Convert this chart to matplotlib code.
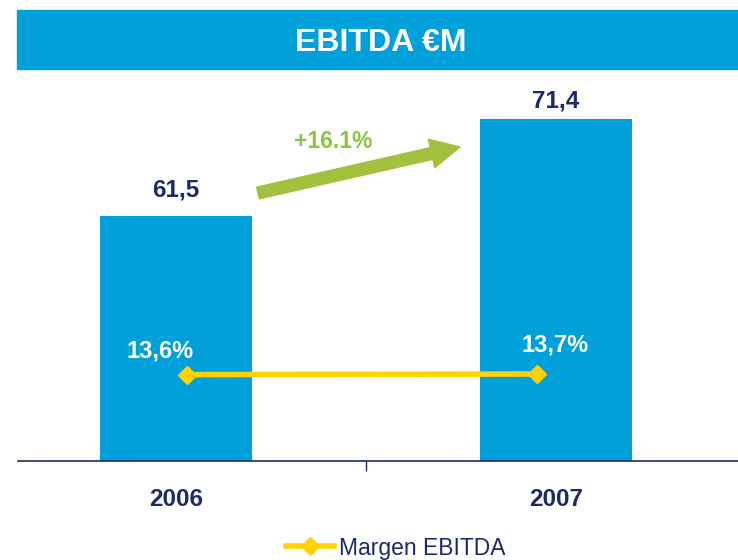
import matplotlib.pyplot as plt
from matplotlib.patches import Rectangle

plt.rcParams['font.family'] = ['Liberation Sans', 'DejaVu Sans']

years = ['2006', '2007']
ebitda = [61.5, 71.4]
ebitda_labels = ['61,5', '71,4']
margin = [13.6, 13.7]
margin_labels = ['13,6%', '13,7%']
growth_label = '+16.1%'

blue = '#00A0DA'
navy = '#1B2A6B'
yellow = '#FFD200'
green = '#A3C13F'
green_txt = '#8CC63E'

W, H = 738, 560
fig = plt.figure(figsize=(W / 100, H / 100), dpi=100)

# title banner
fig.patches.append(Rectangle((17 / W, 1 - 69 / H), 1, 59 / H,
                             transform=fig.transFigure, color=blue, zorder=0))
fig.text(381 / W, 1 - 43 / H, 'EBITDA €M', color='white', fontsize=23,
         fontweight='bold', ha='center', va='center')

pos = [18 / W, (H - 461) / H, 720 / W, 381 / H]
ax = fig.add_axes(pos)
x = [0, 1]
ax.bar(x, ebitda, width=0.40, color=blue, zorder=2)
ax.set_xlim(-0.416, 1.479)
ax.set_ylim(36.5, 75.4)
for s in ['top', 'left', 'right']:
    ax.spines[s].set_visible(False)
ax.spines['bottom'].set_color(navy)
ax.spines['bottom'].set_linewidth(1.2)
ax.set_yticks([])
ax.set_xticks([0.5])
ax.set_xticklabels([''])
ax.tick_params(axis='x', direction='out', length=7, color=navy, width=1)
label_off = [26, 18]
for xi, v, lab, off in zip(x, ebitda, ebitda_labels, label_off):
    ax.annotate(lab, (xi, v), xytext=(0, off), textcoords='offset pixels',
                ha='center', va='center', color=navy,
                fontsize=17.5, fontweight='bold')
for xi, yr in zip(x, years):
    ax.annotate(yr, (xi, 0), xycoords=('data', 'axes fraction'),
                xytext=(0, -39), textcoords='offset pixels', ha='center',
                va='center', color=navy, fontsize=17.5, fontweight='bold')

# margin line on its own axes
ax2 = fig.add_axes(pos, facecolor='none')
ax2.set_xlim(-0.483, 1.574)
ax2.set_ylim(0, 60)
ax2.axis('off')
line, = ax2.plot(x, margin, color=yellow, lw=4, marker='D', ms=9,
                 zorder=3, label='Margen EBITDA')
offsets = [(-27, 24), (18, 29)]
for xi, v, lab, off in zip(x, margin, margin_labels, offsets):
    ax2.annotate(lab, (xi, v), xytext=off, textcoords='offset pixels',
                 ha='center', va='center', color='white', fontsize=17,
                 fontweight='bold')

# growth arrow
fig.text(333 / W, 1 - 141 / H, growth_label, color=green_txt, fontsize=16.5,
         fontweight='bold', ha='center', va='center')
ax.annotate('', xy=(460, H - 147), xycoords='figure pixels',
            xytext=(258, H - 193), textcoords='figure pixels',
            arrowprops=dict(arrowstyle='simple,head_width=1.05,head_length=1.05,tail_width=0.43',
                            color=green, shrinkA=0, shrinkB=0, mutation_scale=20))

fig.legend(handles=[line], loc='center left', frameon=False,
           bbox_to_anchor=(265 / W, 1 - 548 / H), fontsize=16.5,
           labelcolor=navy, handlelength=2.1, handletextpad=0.22)

fig.savefig('out.png', dpi=100)
